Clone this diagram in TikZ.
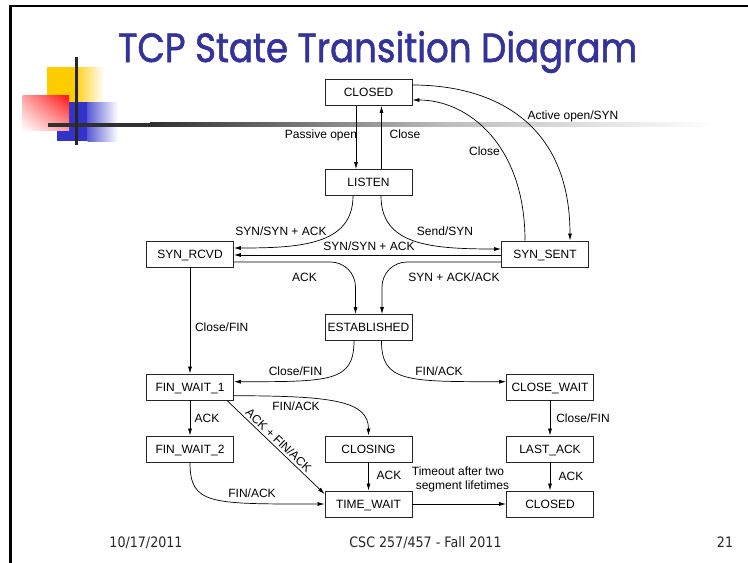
\documentclass[tikz,border=0pt]{standalone}
\usepackage{graphicx}
\usepackage{fontspec}
\setmainfont{Liberation Sans}
\newfontfamily\titlefont{Poppins}[FakeBold=1.6]
\newfontfamily\footfont{DejaVu Sans}[FakeStretch=0.88]
\usetikzlibrary{arrows.meta,shadings}
\definecolor{titleblue}{RGB}{51,51,153}
\definecolor{logoyellow}{RGB}{255,204,0}
\definecolor{logoblue}{RGB}{51,51,204}
\definecolor{logored}{RGB}{255,20,20}
\definecolor{ruledark}{RGB}{48,48,48}
\definecolor{rulemid}{RGB}{190,190,190}
\begin{document}
\begin{tikzpicture}[x=1pt,y=-1pt,
  state/.style={draw=black!85, line width=0.8pt, minimum width=87pt, minimum height=26pt,
    inner sep=0pt, font=\fontsize{12}{14}\selectfont, text height=8.6pt, text depth=0pt},
  lbl/.style={inner sep=0pt, font=\fontsize{12}{14}\selectfont, text height=8.6pt, text depth=0pt},
  tr/.style={draw=black, line width=0.7pt, -{Latex[length=7pt,width=4pt]}},
  foot/.style={inner sep=0pt, font=\footfont\fontsize{14.4}{16}\selectfont, text=black!85,
    text height=10.4pt, text depth=0pt}
]
\useasboundingbox (0,0) rectangle (748,563);

% slide frame
\fill[black] (9,4.8) rectangle (748,7.2);
\fill[black] (9,4.8) rectangle (11.8,563);

% corner logo
\fill[logoyellow] (47,67) rectangle (77.5,102);
\shade[left color=logoyellow!85!white, right color=white] (77.5,67) rectangle (104,102);
\fill[logoblue] (57,102) rectangle (87.5,141);
\shade[left color=logoblue!80!white, right color=white] (87.5,102) rectangle (118,141);
\shade[upper right=logored, lower left=white, upper left=logored!40!white,
       lower right=logored!40!white] (22.7,95.7) rectangle (69,130.7);
\fill[ruledark] (48,122.7) rectangle (150,126.7);
\shade[left color=ruledark, right color=rulemid] (150,122.7) rectangle (450,126.7);
\shade[left color=rulemid, right color=white] (450,122.7) rectangle (715,126.7);
\fill[ruledark!80!black] (75,57) rectangle (77.7,145);

% title
\node[anchor=base west, inner sep=0pt, text=titleblue] (title) at (118,62)
  {\resizebox{519pt}{31pt}{\titlefont TCP State Transition Diagram}};

% states
\node[state] (closedtop) at (368.5,92.5) {CLOSED};
\node[state] (listen) at (368.5,182.5) {LISTEN};
\node[state] (synrcvd) at (190,254) {SYN\_RCVD};
\node[state] (synsent) at (545,254) {SYN\_SENT};
\node[state] (estab) at (368.5,327.5) {ESTABLISHED};
\node[state] (fw1) at (190,387) {FIN\_WAIT\_1};
\node[state] (closewait) at (550,387) {CLOSE\_WAIT};
\node[state] (fw2) at (190,449) {FIN\_WAIT\_2};
\node[state] (closing) at (368.5,449) {CLOSING};
\node[state] (lastack) at (550,449) {LAST\_ACK};
\node[state] (timewait) at (368.5,504) {TIME\_WAIT};
\node[state] (closedbot) at (550,504) {CLOSED};

% transitions
\draw[tr] ([xshift=-12.5pt]closedtop.south) -- ([xshift=-12.5pt]listen.north);
\draw[tr] ([xshift=13pt]listen.north) -- ([xshift=13pt]closedtop.south);
\draw[tr] ([xshift=-20pt]synsent.north) .. controls (525,145) and (468,100) .. ([yshift=-7.5pt]closedtop.east);
\draw[tr] ([yshift=7.5pt]closedtop.east) .. controls (490,85) and (570,120) .. ([xshift=25pt]synsent.north);
\draw[tr] ([xshift=-15.5pt]listen.south) .. controls (353,245) and (300,248) .. ([yshift=6pt]synrcvd.east);
\draw[tr] ([xshift=12.5pt]listen.south) .. controls (381,245) and (430,249) .. ([yshift=5pt]synsent.west);
\draw[tr] ([yshift=-1pt]synsent.west) -- ([yshift=-1pt]synrcvd.east);
\draw[tr, rounded corners=25pt] ([yshift=-8pt]synrcvd.east) -| ([xshift=-13pt]estab.north);
\draw[tr, rounded corners=25pt] ([yshift=-8pt]synsent.west) -| ([xshift=13.5pt]estab.north);
\draw[tr] (synrcvd.south) -- (fw1.north);
\draw[tr] ([xshift=-14.5pt]estab.south) .. controls (354,382) and (330,381.7) .. ([yshift=5.3pt]fw1.east);
\draw[tr] ([xshift=13pt]estab.south) .. controls (381.5,382) and (406,381.7) .. ([yshift=5.3pt]closewait.west);
\draw[tr] ([yshift=-8.7pt]fw1.east) .. controls (330,396) and (368.5,400) .. (closing.north);
\draw[tr] (fw1.south) -- (fw2.north);
\draw[tr] ([xshift=-7pt]fw1.south east) -- ([yshift=10pt]timewait.west)
  node[lbl, sloped, above=2.5pt, pos=0.48] (ackfinack) {ACK + FIN/ACK};
\draw[tr] (fw2.south) .. controls (190,505) and (210,504) .. (timewait.west);
\draw[tr] (closing.south) -- (timewait.north);
\draw[tr] (closewait.south) -- (lastack.north);
\draw[tr] (lastack.south) -- (closedbot.north);
\draw[tr] (timewait.east) -- (closedbot.west);

% transition labels
\node[lbl] (lpassive) at (321,134) {Passive open};
\node[lbl] (lclose1) at (405,134) {Close};
\node[lbl] (lclose2) at (484.5,151.5) {Close};
\node[lbl] (lactive) at (573,115) {Active open/SYN};
\node[lbl] (lsyn1) at (281,231.5) {SYN/SYN + ACK};
\node[lbl] (lsend) at (445,231.5) {Send/SYN};
\node[lbl] (lsyn2) at (369,246.5) {SYN/SYN + ACK};
\node[lbl] (lack1) at (304.5,277) {ACK};
\node[lbl] (lsynack) at (454,277) {SYN + ACK/ACK};
\node[lbl] (lcf1) at (221.7,327.5) {Close/FIN};
\node[lbl] (lcf2) at (295.5,371) {Close/FIN};
\node[lbl] (lfa1) at (439,371) {FIN/ACK};
\node[lbl] (lfa2) at (296,406.5) {FIN/ACK};
\node[lbl] (lack2) at (207,418) {ACK};
\node[lbl] (lfa3) at (252,493) {FIN/ACK};
\node[lbl] (lack3) at (389,475) {ACK};
\node[lbl] (lcf3) at (583,418.5) {Close/FIN};
\node[lbl] (lack4) at (571,476.5) {ACK};
\node[lbl] (ltime1) at (458,471) {Timeout after two};
\node[lbl] (ltime2) at (462.5,485) {segment lifetimes};

% footer
\node[foot] (date) at (146,542.5) {10/17/2011};
\node[foot] (course) at (425.5,542.5) {CSC 257/457 - Fall 2011};
\node[foot] (page) at (725,542.5) {21};
\end{tikzpicture}
\end{document}
